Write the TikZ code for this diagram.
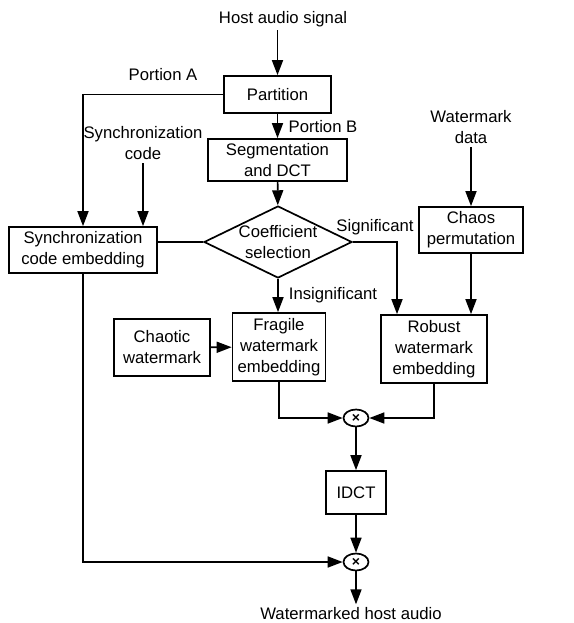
\documentclass[tikz,border=0pt]{standalone}
\usepackage{fontspec}
\setmainfont{Liberation Sans}
\usetikzlibrary{shapes.geometric}
\usetikzlibrary{positioning}
\usetikzlibrary{arrows.meta}

\begin{document}
\begin{tikzpicture}[x=1pt,y=-1pt]
\tikzset{every node/.style={font=\fontsize{16.7}{21}\selectfont, align=center},
  box/.style={draw, line width=1.7pt, inner sep=0pt},
  mult/.style={draw, ellipse, line width=1.7pt, minimum width=25pt, minimum height=17pt, inner sep=0pt},
  >={Triangle[length=15pt,width=11pt]}}
\useasboundingbox (0,0) rectangle (573,623);

\path (283,19) node(host) {Host audio signal};
\path (163,75) node(portA) {Portion A};
\path (323,127) node(portB) {Portion B};
\path (143,143) node(synccode) {Synchronization\\code};
\path (471,127) node(wmdata) {Watermark\\data};
\path (375,227) node(sig) {Significant};
\path (333,295) node(insig) {Insignificant};
\path (351,614) node(out) {Watermarked host audio};

\node[box, minimum width=107pt, minimum height=37pt] (part) at (277.5,94.5) {Partition};
\node[box, minimum width=139pt, minimum height=42pt] (seg) at (277.5,160) {Segmentation\\and DCT};
\node[box, diamond, minimum width=148pt, minimum height=72pt,
  label={[align=center]center:Coefficient\\selection}] (sel) at (278,242) {};
\node[box, minimum width=148pt, minimum height=46pt] (sync) at (83,250) {Synchronization\\code embedding};
\node[box, minimum width=104pt, minimum height=46pt] (chaos) at (471,230) {Chaos\\permutation};
\node[box, minimum width=96pt, minimum height=57pt] (chaotic) at (162,347.5) {Chaotic\\watermark};
\node[box, minimum width=93pt, minimum height=68pt] (frag) at (279,347) {Fragile\\watermark\\embedding};
\node[box, minimum width=106pt, minimum height=68pt] (robust) at (434,349) {Robust\\watermark\\embedding};
\node[mult] (mul1) at (356,418) {\fontsize{14}{14}\selectfont\bfseries ×};
\node[box, minimum width=60pt, minimum height=43pt] (idct) at (356,492.5) {IDCT};
\node[mult] (mul2) at (356,562) {\fontsize{14}{14}\selectfont\bfseries ×};
\coordinate (sigdown) at (397,242);

\draw[line width=1.7pt] (part |- host.south) edge[->] (part)
  (part) edge[->] (seg)
  (seg) edge[->] (sel)
  (synccode) edge[->] (synccode |- sync.north)
  (wmdata) edge[->] (chaos)
  (chaos) edge[->] (chaos |- robust.north)
  (sel) edge[->] (sel |- frag.north)
  (chaotic) edge[->] (frag)
  (mul1) edge[->] (idct)
  (idct) edge[->] (mul2)
  (mul2) edge[->] (mul2 |- out.north);
\draw[line width=1.7pt,->] (part.west) -| (sync.north);
\draw[line width=1.7pt] (sync.east |- sel.west) -- (sel.west);
\draw[line width=1.7pt,->] (sel.east) -- (sigdown) -- (sigdown |- robust.north);
\draw[line width=1.7pt,->] (frag.south) |- (mul1.west);
\draw[line width=1.7pt,->] (robust.south) |- (mul1.east);
\draw[line width=1.7pt,->] (sync.south) |- (mul2.west);

\end{tikzpicture}
\end{document}
